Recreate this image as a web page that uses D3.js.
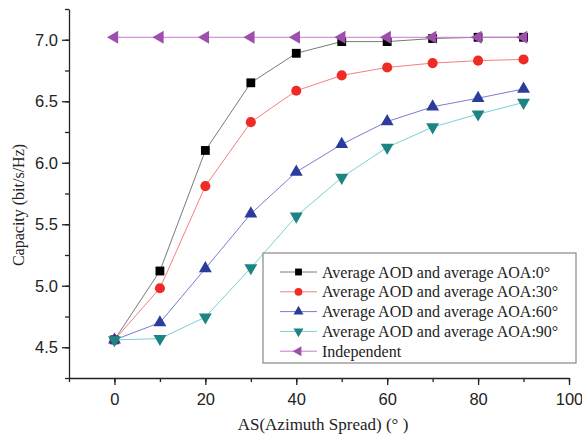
<!DOCTYPE html>
<html>
<head>
<meta charset="UTF-8">
<title>Capacity vs Azimuth Spread</title>
<script src="https://d3js.org/d3.v7.min.js"></script>
<style>
  body { margin: 0; background: #fff; }
  .tick text { font-family: "Liberation Sans", Arial, sans-serif; font-size: 16.5px; fill: #222; }
  .axis path, .axis line { stroke: #222; stroke-width: 1.3; }
  .title { font-family: "Liberation Serif", "Times New Roman", serif; font-size: 16px; fill: #222; }
  .leg { font-family: "Liberation Serif", "Times New Roman", serif; font-size: 16px; fill: #222; }
</style>
</head>
<body>
<svg id="viz" width="582" height="439"></svg>
<script>
// data
var spread = [0, 10, 20, 30, 40, 50, 60, 70, 80, 90];
var aoa0   = [4.56, 5.12, 6.10, 6.65, 6.89, 6.985, 6.985, 7.01, 7.02, 7.02];
var aoa30  = [4.56, 4.98, 5.81, 6.33, 6.585, 6.71, 6.775, 6.81, 6.83, 6.84];
var aoa60  = [4.56, 4.70, 5.14, 5.585, 5.925, 6.15, 6.335, 6.455, 6.525, 6.60];
var aoa90  = [4.56, 4.57, 4.745, 5.145, 5.565, 5.88, 6.125, 6.29, 6.395, 6.49];
var indep  = [7.02, 7.02, 7.02, 7.02, 7.02, 7.02, 7.02, 7.02, 7.02, 7.02];
var xTicks = [0, 20, 40, 60, 80, 100];
var yTicks = [4.5, 5.0, 5.5, 6.0, 6.5, 7.0];

var series = [
  {name: "Average AOD and average AOA:0\u00b0",  values: aoa0,  sym: d3.symbolSquare,   rot: 0,   size: 78, fill: "#000000", line: "#7a7a7a"},
  {name: "Average AOD and average AOA:30\u00b0", values: aoa30, sym: d3.symbolCircle,   rot: 0,   size: 80, fill: "#ee2b25", line: "#f58080"},
  {name: "Average AOD and average AOA:60\u00b0", values: aoa60, sym: d3.symbolTriangle, rot: 0,   size: 72, fill: "#2b3c9c", line: "#7c7cce"},
  {name: "Average AOD and average AOA:90\u00b0", values: aoa90, sym: d3.symbolTriangle, rot: 180, size: 72, fill: "#1d8484", line: "#7ad0d0"},
  {name: "Independent",                            values: indep, sym: d3.symbolTriangle, rot: -90, size: 72, fill: "#9e4fae", line: "#c77ccc"}
];

var svg = d3.select("#viz");
var margin = {left: 69, right: 13, top: 9, bottom: 61};
var width = 582 - margin.left - margin.right,
    height = 439 - margin.top - margin.bottom;
var g = svg.append("g").attr("transform", "translate(" + margin.left + "," + margin.top + ")");

var x = d3.scaleLinear().domain([-10, 100]).range([0, width]);
var y = d3.scaleLinear().domain([4.25, 7.25]).range([height, 0]);

// minor ticks
g.append("g").attr("class", "axis")
  .attr("transform", "translate(0," + height + ")")
  .call(d3.axisBottom(x).tickValues(d3.range(-10, 101, 10)).tickSize(4).tickFormat(""))
  .select(".domain").remove();
g.append("g").attr("class", "axis")
  .call(d3.axisLeft(y).tickValues(d3.range(4.25, 7.26, 0.25)).tickSize(4).tickFormat(""))
  .select(".domain").remove();

// major axes
g.append("g").attr("class", "axis")
  .attr("transform", "translate(0," + height + ")")
  .call(d3.axisBottom(x).tickValues(xTicks).tickSize(7).tickSizeOuter(0).tickPadding(8));
g.append("g").attr("class", "axis")
  .call(d3.axisLeft(y).tickValues(yTicks).tickFormat(d3.format(".1f")).tickSize(7).tickSizeOuter(0).tickPadding(4));

// axis titles
svg.append("text").attr("class", "title")
  .attr("transform", "translate(24,205) rotate(-90)")
  .attr("text-anchor", "middle")
  .text("Capacity (bit/s/Hz)");
svg.append("text").attr("class", "title")
  .attr("x", 323).attr("y", 430)
  .attr("text-anchor", "middle")
  .style("font-size", "17px")
  .text("AS(Azimuth Spread) (\u00b0 )");

var line = d3.line()
  .x(function(d, i) { return x(spread[i]); })
  .y(function(d) { return y(d); });

series.forEach(function(s) {
  g.append("path")
    .datum(s.values)
    .attr("fill", "none")
    .attr("stroke", s.line)
    .attr("stroke-width", 1)
    .attr("d", line);
  g.selectAll(null)
    .data(s.values)
    .enter().append("path")
    .attr("d", d3.symbol().type(s.sym).size(s.size))
    .attr("transform", function(d, i) {
      return "translate(" + x(spread[i]) + "," + y(d) + ") rotate(" + s.rot + ")";
    })
    .attr("fill", s.fill);
});

// legend
var leg = svg.append("g").attr("transform", "translate(263,253)");
leg.append("rect")
  .attr("width", 313).attr("height", 110)
  .attr("fill", "#fff").attr("stroke", "#888").attr("stroke-width", 1.2);
series.forEach(function(s, i) {
  var row = leg.append("g").attr("transform", "translate(0," + (19 + i * 19.8) + ")");
  row.append("line").attr("x1", 17).attr("x2", 54).attr("y1", 0).attr("y2", 0)
    .attr("stroke", s.line).attr("stroke-width", 1);
  row.append("path")
    .attr("d", d3.symbol().type(s.sym).size(s.size * 0.6))
    .attr("transform", "translate(35.5,0) rotate(" + s.rot + ")")
    .attr("fill", s.fill);
  row.append("text").attr("class", "leg")
    .attr("x", 59).attr("y", 5.5)
    .text(s.name);
});
</script>
</body>
</html>
